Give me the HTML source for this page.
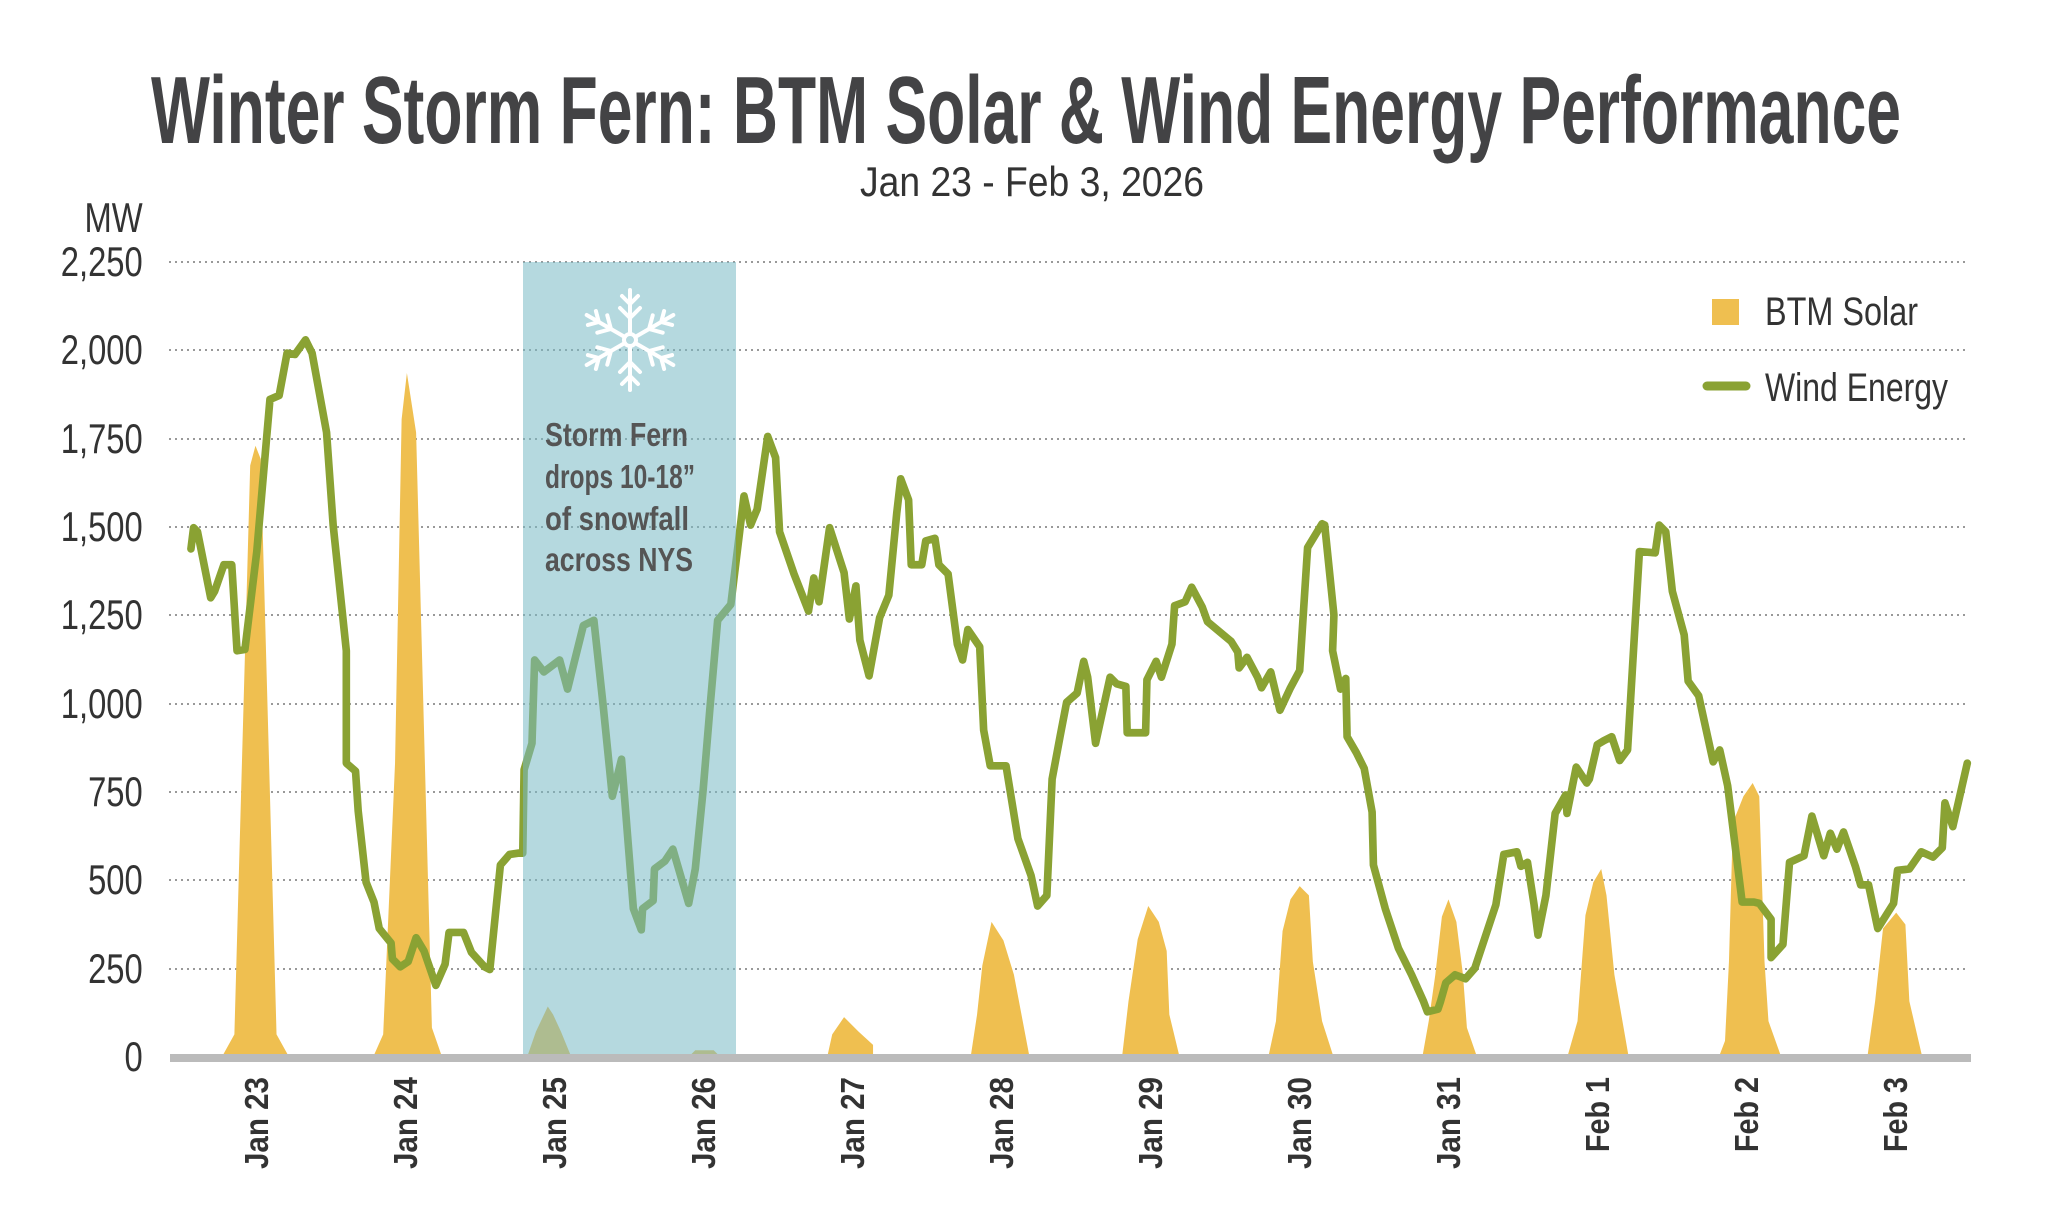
<!DOCTYPE html>
<html><head><meta charset="utf-8"><style>
html,body{margin:0;padding:0;background:#fff;}
svg{display:block;}
</style></head><body>
<svg width="2062" height="1220" viewBox="0 0 2062 1220" xmlns="http://www.w3.org/2000/svg">
<rect width="2062" height="1220" fill="#fff"/>
<text x="151" y="143" font-family="'Liberation Sans Narrow','Liberation Sans',sans-serif" font-weight="bold" font-size="96" fill="#434345" textLength="1750" lengthAdjust="spacingAndGlyphs">Winter Storm Fern: BTM Solar &amp; Wind Energy Performance</text>
<text x="1032" y="196" text-anchor="middle" font-family="'Liberation Sans Narrow','Liberation Sans',sans-serif" font-size="42" fill="#333" textLength="344" lengthAdjust="spacingAndGlyphs">Jan 23 - Feb 3, 2026</text>
<g transform="scale(0.78,1)" font-family="'Liberation Sans Narrow','Liberation Sans',sans-serif" font-size="42" fill="#333" text-anchor="end">
<text x="183" y="232">MW</text>
<text x="183" y="276">2,250</text>
<text x="183" y="364">2,000</text>
<text x="183" y="453">1,750</text>
<text x="183" y="541">1,500</text>
<text x="183" y="629">1,250</text>
<text x="183" y="718">1,000</text>
<text x="183" y="806">750</text>
<text x="183" y="894">500</text>
<text x="183" y="983">250</text>
<text x="183" y="1071">0</text>
</g>
<g stroke="#999" stroke-width="2" stroke-dasharray="2,4">
<line x1="169" x2="1966" y1="262" y2="262"/><line x1="169" x2="1966" y1="350" y2="350"/>
<line x1="169" x2="1966" y1="439" y2="439"/><line x1="169" x2="1966" y1="527" y2="527"/>
<line x1="169" x2="1966" y1="615" y2="615"/><line x1="169" x2="1966" y1="704" y2="704"/>
<line x1="169" x2="1966" y1="792" y2="792"/><line x1="169" x2="1966" y1="880" y2="880"/>
<line x1="169" x2="1966" y1="969" y2="969"/>
</g>
<g transform="translate(0,-4) scale(1.3168,1.3227)">
<g fill="#efbf50">
<polygon points="168,803 178,785 190,355 194,340 198,350 210,785 220,803"/>
<polygon points="283,803 291,785 300,580 305,320 309,285 316,330 328,780 336,803"/>
<polygon points="400,803 407,783 416,764 420,770 426,783 433,800 433,803"/>
<polygon points="522,803 528,797 542,797 548,803"/>
<polygon points="628,803 632,785 641,772 652,783 663,793 663,803"/>
<polygon points="737,803 742,770 746,733 753,700 762,714 770,740 782,803"/>
<polygon points="852,803 857,760 864,713 872,688 880,700 886,722 888,770 896,803"/>
<polygon points="963,803 969,775 974,707 980,683 987,673 994,680 997,730 1004,775 1013,803"/>
<polygon points="1080,803 1085,775 1090,740 1095,696 1100,683 1106,700 1111,740 1114,780 1122,803"/>
<polygon points="1190,803 1198,775 1204,695 1210,670 1216,660 1220,680 1226,740 1237,803"/>
<polygon points="1305,803 1310,790 1313,730 1316,625 1324,605 1331,595 1336,605 1340,730 1343,775 1353,803"/>
<polygon points="1418,803 1424,760 1430,705 1440,693 1447,702 1450,760 1460,803"/>
</g>
<polyline fill="none" stroke="#8aa233" stroke-width="5.8" stroke-linejoin="round" stroke-linecap="round" points="145,418 147,402 150,405 153,420 160,455 163,450 170,430 176,430 180,495 186,494 195,420 205,305 212,302 218,270 224,271 232,260 237,270 248,330 253,400 263,495 263,580 270,586 272,616 278,670 284,685 288,705 297,716 298,728 304,734 310,730 316,712 322,722 331,748 338,732 341,708 352,708 358,723 368,734 372,736 380,657 387,649 394,648 397,648 398,585 404,565 406,502 413,511 425,502 431,524 443,476 451,472 458,536 465,605 472,577 477,640 481,690 487,706 488,690 496,684 497,660 505,654 511,645 523,686 528,660 534,600 539,540 545,472 555,460 565,378 570,400 575,388 583,333 589,349 592,405 603,437 614,465 618,440 622,458 630,402 641,436 645,471 650,446 653,487 660,514 668,470 675,453 681,391 684,365 690,381 692,430 700,430 703,412 710,410 713,430 720,437 727,490 731,502 735,479 744,492 747,555 752,582 764,582 773,637 783,665 788,688 795,680 799,592 805,560 810,534 818,527 823,503 826,515 832,565 843,515 848,520 855,522 856,557 870,557 871,517 878,503 882,515 890,490 892,461 900,458 905,447 913,462 917,473 935,488 940,496 941,508 947,500 955,515 958,523 965,511 972,540 980,523 987,510 993,417 1004,399 1006,400 1013,468 1012,495 1018,524 1022,516 1023,560 1030,572 1036,584 1042,617 1043,657 1052,690 1062,720 1072,740 1081,760 1084,768 1092,766 1094,760 1098,746 1105,740 1113,743 1120,735 1127,714 1136,687 1142,649 1152,647 1155,658 1160,655 1165,687 1168,710 1174,680 1181,618 1189,604 1190,618 1197,583 1205,595 1207,592 1213,566 1218,563 1224,560 1230,578 1236,570 1245,420 1257,421 1260,400 1265,405 1270,450 1279,483 1282,518 1290,529 1301,579 1306,570 1312,597 1323,685 1332,685 1336,686 1345,698 1345,727 1354,717 1359,655 1370,650 1376,620 1385,650 1390,633 1395,645 1400,632 1409,658 1413,672 1419,672 1426,705 1438,686 1441,661 1450,660 1459,647 1468,651 1475,644 1477,610 1483,628 1494,580"/>
</g>
<rect x="523" y="262" width="213" height="796" fill="rgb(120,186,197)" fill-opacity="0.55"/>
<rect x="170" y="1054" width="1801" height="8" fill="#bbb"/>
<g stroke="#fff" stroke-width="4" stroke-linecap="round" fill="none" transform="translate(630,340)">
<circle r="6"/>
<g id="arm"><line x1="0" y1="-6" x2="0" y2="-50"/><line x1="0" y1="-22" x2="-10" y2="-32"/><line x1="0" y1="-22" x2="10" y2="-32"/><line x1="0" y1="-36" x2="-8" y2="-44"/><line x1="0" y1="-36" x2="8" y2="-44"/></g>
<use href="#arm" transform="rotate(60)"/><use href="#arm" transform="rotate(120)"/><use href="#arm" transform="rotate(180)"/><use href="#arm" transform="rotate(240)"/><use href="#arm" transform="rotate(300)"/>
</g>
<g font-family="'Liberation Sans Narrow','Liberation Sans',sans-serif" font-weight="bold" font-size="33" fill="#555">
<text x="545" y="446" textLength="143" lengthAdjust="spacingAndGlyphs">Storm Fern</text>
<text x="545" y="488" textLength="150" lengthAdjust="spacingAndGlyphs">drops 10-18”</text>
<text x="545" y="530" textLength="144" lengthAdjust="spacingAndGlyphs">of snowfall</text>
<text x="545" y="571" textLength="148" lengthAdjust="spacingAndGlyphs">across NYS</text>
</g>
<rect x="1712" y="299" width="27" height="26" fill="#efbf50"/>
<line x1="1707" y1="386" x2="1746" y2="386" stroke="#8aa233" stroke-width="9" stroke-linecap="round"/>
<g font-family="'Liberation Sans Narrow','Liberation Sans',sans-serif" font-size="40" fill="#333">
<text x="1765" y="325" textLength="153" lengthAdjust="spacingAndGlyphs">BTM Solar</text>
<text x="1765" y="401" textLength="183" lengthAdjust="spacingAndGlyphs">Wind Energy</text>
</g>
<g font-family="'Liberation Sans Narrow','Liberation Sans',sans-serif" font-weight="bold" font-size="33" fill="#333" text-anchor="end">
<text transform="translate(268,1077) rotate(-90)" textLength="92" lengthAdjust="spacingAndGlyphs">Jan 23</text>
<text transform="translate(417,1077) rotate(-90)" textLength="92" lengthAdjust="spacingAndGlyphs">Jan 24</text>
<text transform="translate(566,1077) rotate(-90)" textLength="92" lengthAdjust="spacingAndGlyphs">Jan 25</text>
<text transform="translate(715,1077) rotate(-90)" textLength="92" lengthAdjust="spacingAndGlyphs">Jan 26</text>
<text transform="translate(864,1077) rotate(-90)" textLength="92" lengthAdjust="spacingAndGlyphs">Jan 27</text>
<text transform="translate(1013,1077) rotate(-90)" textLength="92" lengthAdjust="spacingAndGlyphs">Jan 28</text>
<text transform="translate(1162,1077) rotate(-90)" textLength="92" lengthAdjust="spacingAndGlyphs">Jan 29</text>
<text transform="translate(1311,1077) rotate(-90)" textLength="92" lengthAdjust="spacingAndGlyphs">Jan 30</text>
<text transform="translate(1460,1077) rotate(-90)" textLength="92" lengthAdjust="spacingAndGlyphs">Jan 31</text>
<text transform="translate(1609,1077) rotate(-90)" textLength="75" lengthAdjust="spacingAndGlyphs">Feb 1</text>
<text transform="translate(1758,1077) rotate(-90)" textLength="75" lengthAdjust="spacingAndGlyphs">Feb 2</text>
<text transform="translate(1907,1077) rotate(-90)" textLength="75" lengthAdjust="spacingAndGlyphs">Feb 3</text>
</g>
</svg>
</body></html>
